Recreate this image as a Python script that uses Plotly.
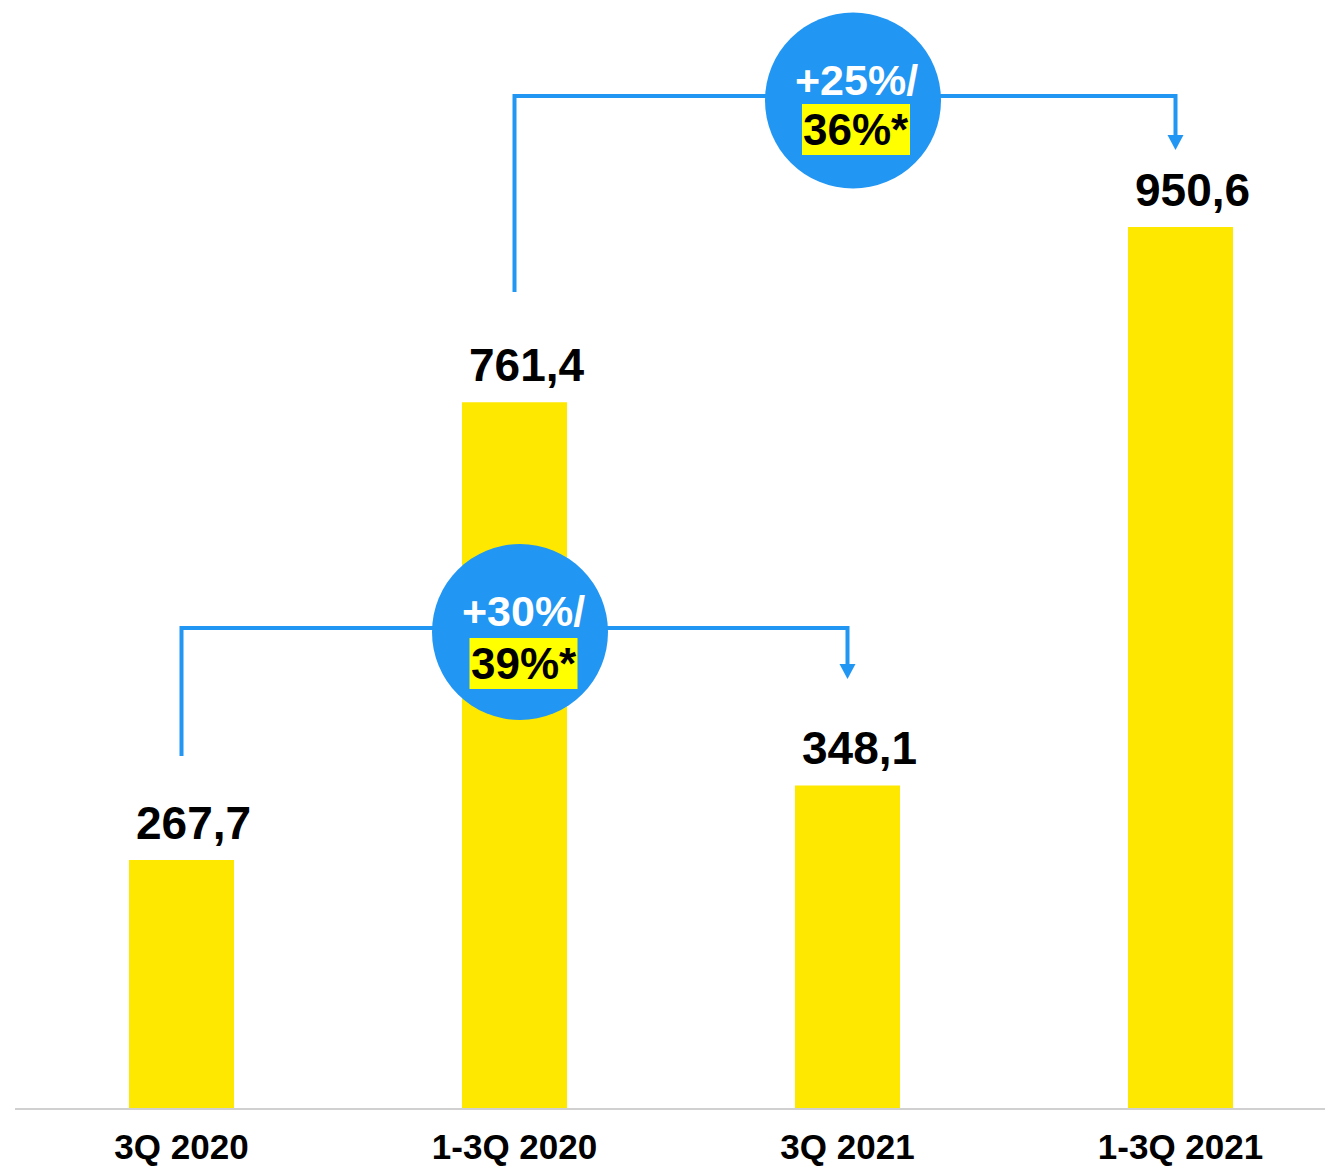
import plotly.graph_objects as go

categories = ["3Q 2020", "1-3Q 2020", "3Q 2021", "1-3Q 2021"]
values = [267.7, 761.4, 348.1, 950.6]
value_labels = ["267,7", "761,4", "348,1", "950,6"]
growth_pairs = [(0, 2), (1, 3)]
growth_main = ["+30%/", "+25%/"]
growth_alt = ["39%*", "36%*"]

OFF = 8               # page body margin
W, H = 1333 - OFF, 1168 - OFF
PL = 15               # page x of plot-area left
BASE_PAGE = 1108      # page y of baseline
STEP = 333.0          # px per category
PXU = 0.9268          # px per value unit
ML = PL - OFF
MB = H - (BASE_PAGE - OFF)
YMAX = (BASE_PAGE - OFF) / PXU

BLUE = "#2196F3"
BAR = "#FFE800"
HL = "#FFFF00"
FONT = "Liberation Sans, Arial, sans-serif"


def dx(px):
    return px / STEP


def dy(px):
    return px / PXU


def ypx(py):
    return (BASE_PAGE - py) / PXU


def xpx(px):
    return -0.5 + (px - PL) / STEP


fig = go.Figure()
fig.add_trace(go.Bar(x=list(range(len(categories))), y=values, width=105 / STEP,
                     marker=dict(color=BAR, line=dict(width=0)), hoverinfo="skip"))

shapes = []
annotations = []

for i, v in enumerate(values):
    annotations.append(dict(x=i, y=v, text="<b>%s</b>" % value_labels[i], showarrow=False,
                            yanchor="bottom", xshift=12, yshift=9,
                            font=dict(family=FONT, size=46, color="#000000")))

brackets = [
    dict(y_h=628, y_start=756, y_arrow=664, y_tip=679, end_dx=0, cx=520, cy=632,
         ty=611, hy=663.5, hx=523.5),
    dict(y_h=96, y_start=292, y_arrow=135, y_tip=150, end_dx=-5, cx=853, cy=100.5,
         ty=79.5, hy=129.5, hx=856),
]

for k, (a, b) in enumerate(growth_pairs):
    g = brackets[k]
    xa = a
    xb = b + dx(g["end_dx"])
    path = "M %f,%f L %f,%f L %f,%f L %f,%f" % (
        xa, ypx(g["y_start"]), xa, ypx(g["y_h"]), xb, ypx(g["y_h"]), xb, ypx(g["y_arrow"]))
    shapes.append(dict(type="path", path=path, line=dict(color=BLUE, width=4),
                       fillcolor="rgba(0,0,0,0)"))
    tri = "M %f,%f L %f,%f L %f,%f Z" % (
        xb - dx(8), ypx(g["y_arrow"]), xb + dx(8), ypx(g["y_arrow"]), xb, ypx(g["y_tip"]))
    shapes.append(dict(type="path", path=tri, fillcolor=BLUE, line=dict(color=BLUE, width=0)))
    cxd = xpx(g["cx"])
    r = 88
    shapes.append(dict(type="circle", x0=cxd - dx(r), x1=cxd + dx(r),
                       y0=ypx(g["cy"]) - dy(r), y1=ypx(g["cy"]) + dy(r),
                       fillcolor=BLUE, line=dict(color=BLUE, width=0)))
    hxd = xpx(g["hx"])
    shapes.append(dict(type="rect", x0=hxd - dx(54), x1=hxd + dx(54),
                       y0=ypx(g["hy"]) - dy(25.5), y1=ypx(g["hy"]) + dy(25.5),
                       fillcolor=HL, line=dict(width=0)))
    annotations.append(dict(x=cxd + dx(3), y=ypx(g["ty"]), text="<b>%s</b>" % growth_main[k],
                            showarrow=False, yanchor="middle",
                            font=dict(family=FONT, size=43, color="#FFFFFF")))
    annotations.append(dict(x=hxd, y=ypx(g["hy"]), text="<b>%s</b>" % growth_alt[k],
                            showarrow=False, yanchor="middle",
                            font=dict(family=FONT, size=44, color="#000000")))

fig.update_layout(
    width=W, height=H,
    margin=dict(l=ML, r=0, t=0, b=MB, autoexpand=False),
    paper_bgcolor="white", plot_bgcolor="white",
    showlegend=False,
    shapes=shapes, annotations=annotations,
    xaxis=dict(range=[-0.5, -0.5 + (W - ML) / STEP], tickvals=list(range(len(categories))),
               ticktext=["<b>%s</b>" % c for c in categories],
               tickfont=dict(family=FONT, size=35, color="#000000"),
               ticklabelstandoff=7, automargin=False,
               showline=True, linecolor="#D0D0D0", linewidth=2,
               showgrid=False, zeroline=False, ticks="", fixedrange=True),
    yaxis=dict(range=[0, YMAX], visible=False, showgrid=False, zeroline=False,
               automargin=False),
)

fig.write_html("out.html")
